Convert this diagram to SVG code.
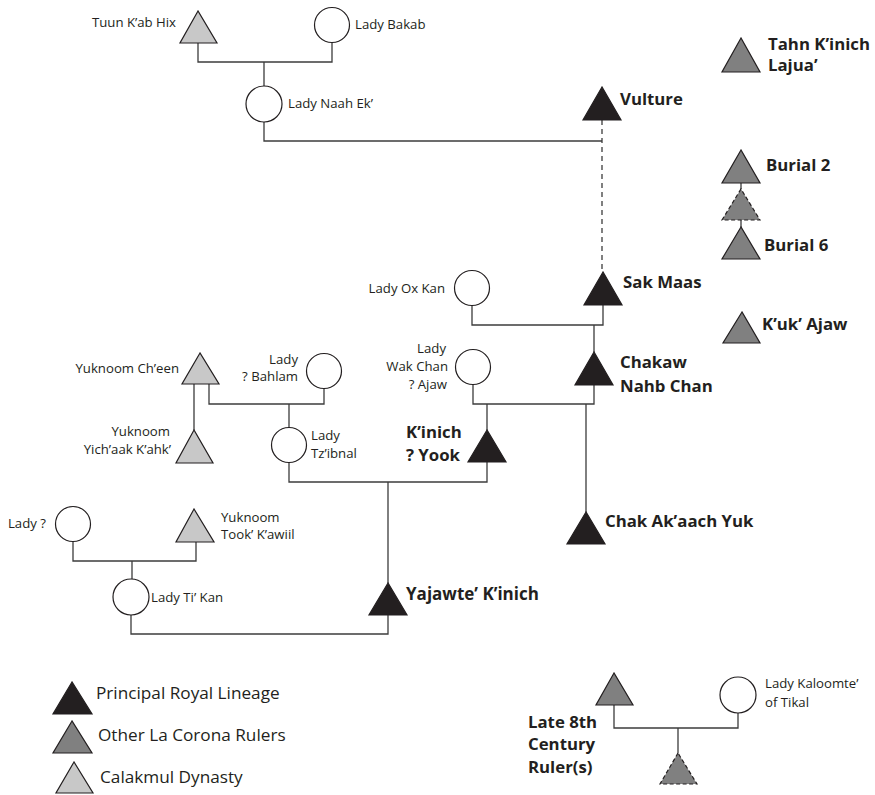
<svg xmlns="http://www.w3.org/2000/svg" width="875" height="795" viewBox="0 0 875 795">
<style>
.ln{fill:none;stroke:#3c3c3c;stroke-width:1.3}
.dash{stroke-dasharray:5 4}
.f{fill:#fff;stroke:#231f20;stroke-width:1.2}
.pr{fill:#231f20;stroke:#231f20;stroke-width:1.2}
.ot{fill:#808080;stroke:#231f20;stroke-width:1.2}
.ca{fill:#c8c8c8;stroke:#231f20;stroke-width:1.2}
.dt{stroke-dasharray:4 2.5}
text{font-family:"Open Sans","Liberation Sans",sans-serif;font-size:13.2px;fill:#231f20}
.e{text-anchor:end}
.b{font-weight:bold;font-size:16.8px}
.lg{font-size:17.2px}
</style>
<rect width="875" height="795" fill="#fff"/>
<g id="connectors">
<path class="ln" d="M198,43V62H332V42.5M264,62V86"/>
<path class="ln" d="M264,122V141H602"/>
<path class="ln dash" d="M602,120V272"/>
<path class="ln" d="M603,305V325H472V306M594,325V352"/>
<path class="ln" d="M594,385V404H473V384.5M487,404V430M586,404V512"/>
<path class="ln" d="M209,384V404H324V388.5M289,404V427.5M194,384V430"/>
<path class="ln" d="M289,462.5V482H487V462M388,482V583"/>
<path class="ln" d="M73,541.5V561H196V542M132,561V579"/>
<path class="ln" d="M131,615V634H388V615"/>
<path class="ln" d="M614,705V728H738V713M678,728V753"/>
<path class="ln" d="M741,183V189M741,220V227"/>
</g>
<g id="tuun"><polygon class="ca" points="198,11 180,43 217,43"/><text class="e" x="176" y="27">Tuun K’ab Hix</text></g>
<g id="bakab"><circle class="f" cx="332" cy="25" r="17.5"/><text x="355" y="29">Lady Bakab</text></g>
<g id="naahek"><circle class="f" cx="264" cy="104" r="18"/><text x="288" y="108">Lady Naah Ek’</text></g>
<g id="vulture"><polygon class="pr" points="602,87 583,120 621,120"/><text class="b" x="620" y="105">Vulture</text></g>
<g id="tahn"><polygon class="ot" points="741,38 722,72 760,72"/><text class="b" x="768" y="50">Tahn K’inich</text><text class="b" x="768" y="71">Lajua’</text></g>
<g id="burial2"><polygon class="ot" points="741,150 722,183 760,183"/><text class="b" x="766" y="171">Burial 2</text></g>
<g id="burialmid"><polygon class="ot dt" points="741,189 722,220 760,220"/></g>
<g id="burial6"><polygon class="ot" points="741,227 722,259 760,259"/><text class="b" x="764" y="251">Burial 6</text></g>
<g id="sakmaas"><polygon class="pr" points="603,272 584,305 622,305"/><text class="b" x="623" y="288">Sak Maas</text></g>
<g id="kukajaw"><polygon class="ot" points="742,312 723,343 760,343"/><text class="b" x="762" y="330">K’uk’ Ajaw</text></g>
<g id="oxkan"><circle class="f" cx="472" cy="288" r="17.5"/><text class="e" x="445" y="293">Lady Ox Kan</text></g>
<g id="chakaw"><polygon class="pr" points="594,352 575,385 613,385"/><text class="b" x="620" y="368">Chakaw</text><text class="b" x="620" y="392">Nahb Chan</text></g>
<g id="wakchan"><circle class="f" cx="473" cy="367" r="17.5"/><text class="e" x="446" y="353">Lady</text><text class="e" x="448" y="371">Wak Chan</text><text class="e" x="447" y="389">? Ajaw</text></g>
<g id="chenn"><polygon class="ca" points="200,353 182,384 219,384"/><text class="e" x="179" y="373">Yuknoom Ch’een</text></g>
<g id="bahlam"><circle class="f" cx="324" cy="371" r="17.5"/><text class="e" x="298" y="364">Lady</text><text class="e" x="298" y="381">? Bahlam</text></g>
<g id="yichaak"><polygon class="ca" points="194,430 176,463 213,463"/><text class="e" x="170" y="436">Yuknoom</text><text class="e" x="171" y="454">Yich’aak K’ahk’</text></g>
<g id="tzibnal"><circle class="f" cx="289" cy="445" r="17.5"/><text x="311" y="440">Lady</text><text x="311" y="458">Tz’ibnal</text></g>
<g id="kinichyook"><polygon class="pr" points="487,430 468,462 506,462"/><text class="b" x="406" y="438">K’inich</text><text class="b" x="406" y="461">? Yook</text></g>
<g id="chakakaach"><polygon class="pr" points="586,512 567,544 605,544"/><text class="b" x="605" y="527">Chak Ak’aach Yuk</text></g>
<g id="ladyq"><circle class="f" cx="73" cy="524" r="17.5"/><text class="e" x="46" y="528">Lady ?</text></g>
<g id="tookkawiil"><polygon class="ca" points="194,509 176,542 214,542"/><text x="221" y="522">Yuknoom</text><text x="221" y="539">Took’ K’awiil</text></g>
<g id="tikan"><circle class="f" cx="131" cy="597" r="18"/><text x="151" y="602">Lady Ti’ Kan</text></g>
<g id="yajawte"><polygon class="pr" points="388,583 369,615 407,615"/><text class="b" x="406" y="600" style="font-size:17px">Yajawte’ K’inich</text></g>
<g id="late8th"><polygon class="ot" points="614,673 596,705 633,705"/><text class="b" x="528" y="728">Late 8th</text><text class="b" x="528" y="750">Century</text><text class="b" x="528" y="773">Ruler(s)</text></g>
<g id="kaloomte"><circle class="f" cx="738" cy="695" r="18"/><text x="765" y="688">Lady Kaloomte’</text><text x="765" y="707">of Tikal</text></g>
<g id="bottomruler"><polygon class="ot dt" points="678,753 660,784 697,784"/></g>
<g id="legend">
<polygon class="pr" points="72,682 53,714 92,714"/><text class="lg" x="96" y="699">Principal Royal Lineage</text>
<polygon class="ot" points="72,721 53,753 92,753"/><text class="lg" x="98" y="741">Other La Corona Rulers</text>
<polygon class="ca" points="74,762 56,793 93,793"/><text class="lg" x="100" y="783">Calakmul Dynasty</text>
</g>
</svg>
